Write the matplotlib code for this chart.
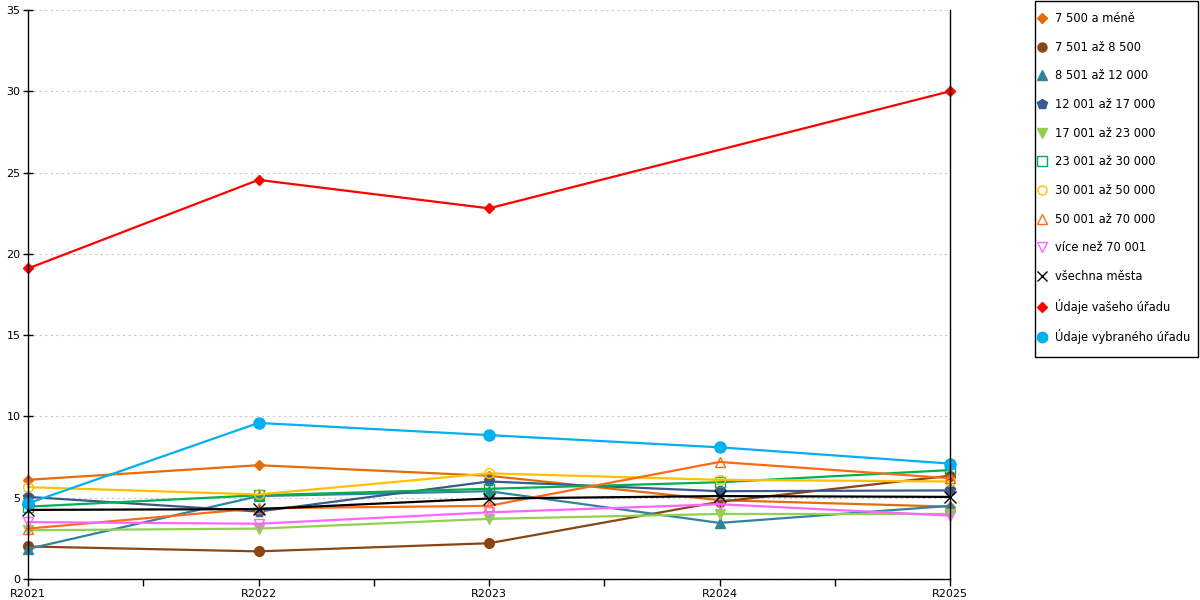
import numpy as np
import matplotlib
matplotlib.use("Agg")
import matplotlib.pyplot as plt
from matplotlib.lines import Line2D
from matplotlib.patches import Rectangle
from matplotlib.ticker import MultipleLocator

# data
roky = ["R2021", "R2022", "R2023", "R2024", "R2025"]

do_7500 = [6.1, 7.0, 6.35, 4.85, 4.45]
do_8500 = [2.0, 1.7, 2.2, 4.75, 6.35]
do_12000 = [1.85, 5.1, 5.4, 3.45, 4.5]
do_17000 = [5.05, 4.15, 6.0, 5.4, 5.45]
do_23000 = [3.0, 3.1, 3.7, 4.0, 4.0]
do_30000 = [4.45, 5.15, 5.55, 5.95, 6.7]
do_50000 = [5.65, 5.2, 6.5, 6.1, 6.0]
do_70000 = [3.1, 4.35, 4.5, 7.2, 6.2]
nad_70001 = [3.5, 3.4, 4.1, 4.6, 3.9]
vsechna = [4.25, 4.3, 4.95, 5.1, 5.05]
vas_urad = [19.1, 24.55, 22.8, None, 30.0]
vybrany_urad = [4.65, 9.6, 8.85, 8.1, 7.1]

nazvy = ["7 500 a méně", "7 501 až 8 500", "8 501 až 12 000", "12 001 až 17 000",
         "17 001 až 23 000", "23 001 až 30 000", "30 001 až 50 000", "50 001 až 70 000",
         "více než 70 001", "všechna města", "Údaje vašeho úřadu", "Údaje vybraného úřadu"]
rady = [do_7500, do_8500, do_12000, do_17000, do_23000, do_30000, do_50000,
        do_70000, nad_70001, vsechna, vas_urad, vybrany_urad]

# (color, marker, filled, size)
styly = [("#E46C0A", "D", True, 5.5),
         ("#8B4513", "o", True, 7),
         ("#31849B", "^", True, 7.5),
         ("#3A5A8C", "p", True, 8),
         ("#92D050", "v", True, 7.5),
         ("#00B050", "s", False, 7),
         ("#FFC000", "o", False, 7),
         ("#FF6A13", "^", False, 7.5),
         ("#FF66FF", "v", False, 7.5),
         ("#000000", "x", True, 8),
         ("#FF0000", "D", True, 5.5),
         ("#00B0F0", "o", True, 8)]

matplotlib.rcParams['font.family'] = "DejaVu Sans"
fig = plt.figure(figsize=(12, 6), dpi=100)
ax = fig.add_axes([28/1200, 21/600, 922/1200, 569/600])

x = np.arange(len(roky))
handles = []
for vals, (col, mk, filled, ms), nm in zip(rady, styly, nazvy):
    xs = [xi for xi, v in zip(x, vals) if v is not None]
    ys = [v for v in vals if v is not None]
    fc = col if filled else "none"
    ax.plot(xs, ys, color=col, lw=1.6, marker=mk, markersize=ms,
            markerfacecolor=fc, markeredgecolor=col, markeredgewidth=1.0, clip_on=False)
    handles.append(Line2D([], [], linestyle="none", marker=mk, color=col,
                          markersize=ms - 0.5, markerfacecolor=fc, markeredgecolor=col,
                          markeredgewidth=1.0))

ax.set_xlim(0, 4)
ax.set_ylim(0, 35)
ax.set_xticks(x)
ax.set_xticklabels(roky)
ax.xaxis.set_minor_locator(MultipleLocator(0.5))
ax.yaxis.set_major_locator(MultipleLocator(5))
ax.tick_params(axis="x", which="both", direction="out", length=5, width=1, labelsize=8, pad=2)
ax.tick_params(axis="y", direction="inout", length=7, width=1, labelsize=8, pad=2)
ax.grid(axis="y", color="#C8C8C8", linestyle=(0, (2, 3)), linewidth=0.8)
ax.set_axisbelow(True)
ax.spines["top"].set_visible(False)
for s in ["left", "bottom", "right"]:
    ax.spines[s].set_color("black")
    ax.spines[s].set_linewidth(1)

# legend box drawn by hand, entries placed inside it
fig.patches.append(Rectangle((1034.5/1200, 1 - 357/600), 163/1200, 356.5/600,
                             transform=fig.transFigure, facecolor="white",
                             edgecolor="black", linewidth=1))
leg = fig.legend(handles, nazvy, loc="upper left", bbox_to_anchor=(1037/1200, 1 - 12/600),
                 fontsize=8.3, frameon=False, handlelength=0.8,
                 handletextpad=0.75, labelspacing=1.36, borderpad=0, borderaxespad=0)

fig.savefig("out.png", dpi=100)
